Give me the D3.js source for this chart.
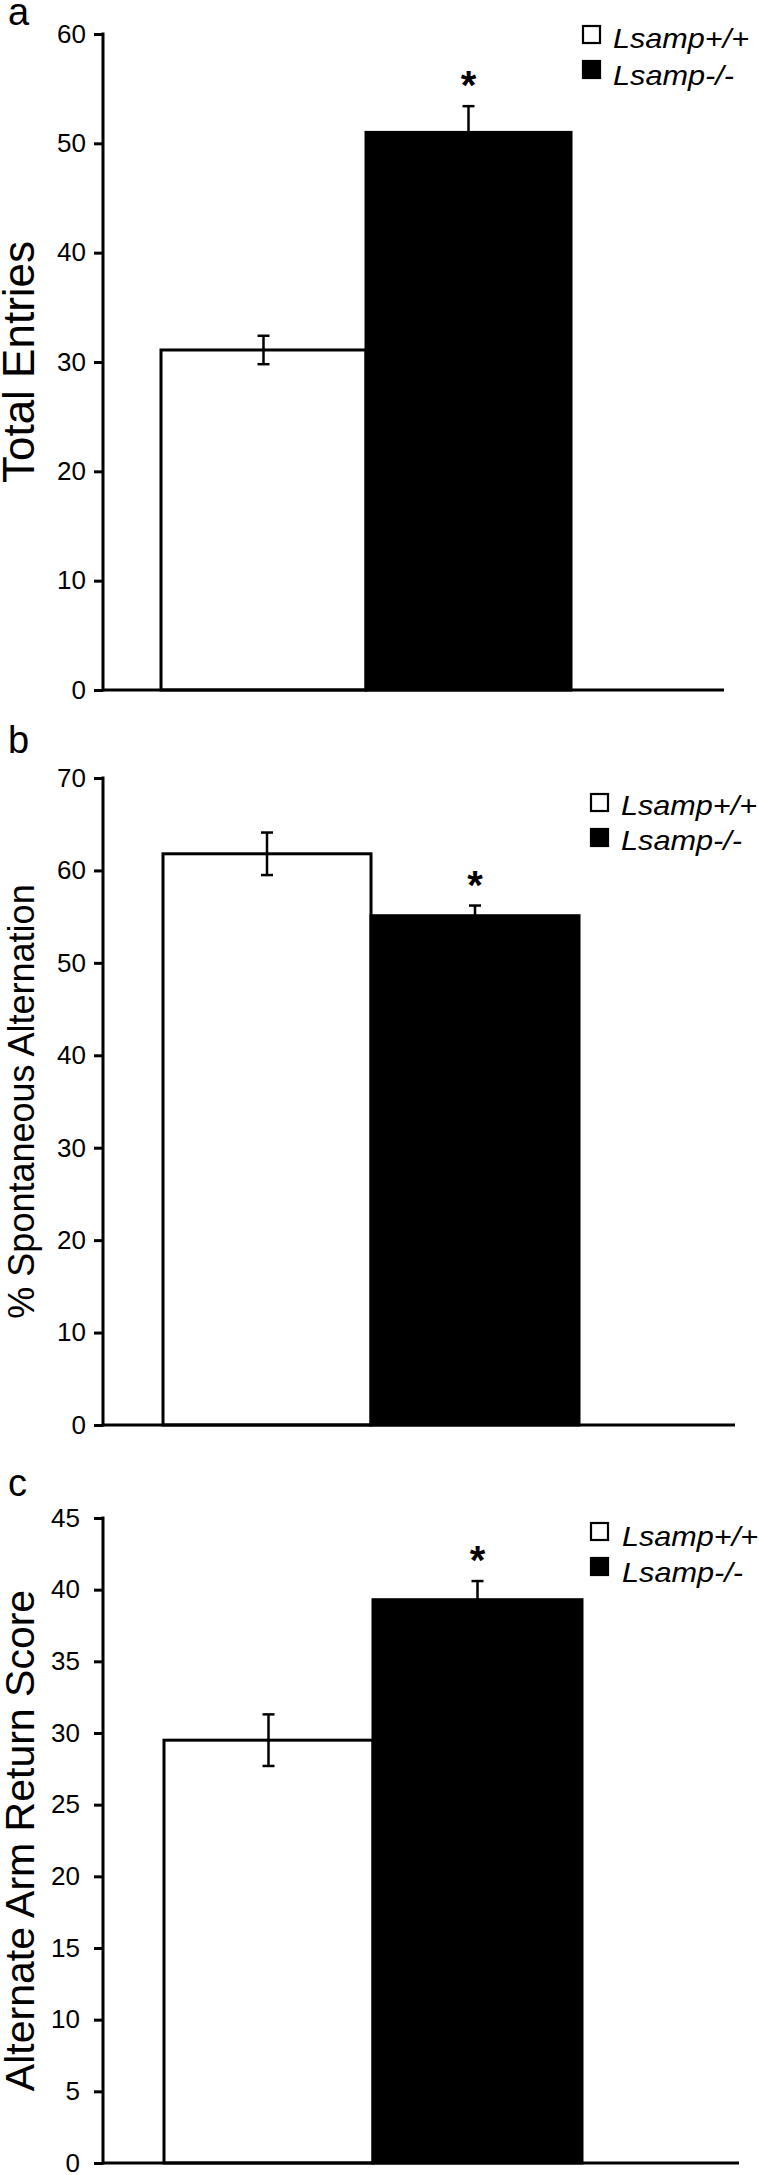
<!DOCTYPE html>
<html>
<head>
<meta charset="utf-8">
<script src="https://cdn.jsdelivr.net/npm/d3@7"></script>
<style>
  html, body { margin: 0; padding: 0; background: #fff; }
  svg { display: block; font-family: "Liberation Sans", Arial, sans-serif; }
</style>
</head>
<body>
<svg id="chart" width="759" height="2175"></svg>
<script>
// ---- Data ----
const genotypes = ["Lsamp+/+", "Lsamp-/-"];
const barFills = ["#ffffff", "#000000"];

const totalEntries = [31.1, 51.0];
const totalEntriesSEM = [1.3, 2.4];
const totalEntriesTicks = [0, 10, 20, 30, 40, 50, 60];

const spontAlt = [61.8, 55.1];
const spontAltSEM = [2.3, 1.1];
const spontAltTicks = [0, 10, 20, 30, 40, 50, 60, 70];

const armReturn = [29.5, 39.3];
const armReturnSEM = [1.8, 1.3];
const armReturnTicks = [0, 5, 10, 15, 20, 25, 30, 35, 40, 45];

const significant = [false, true];

const panelLabels = ["a", "b", "c"];
const yTitles = ["Total Entries", "% Spontaneous Alternation", "Alternate Arm Return Score"];

// ---- Layout ----
const panels = [
  { label: panelLabels[0], title: yTitles[0], values: totalEntries, sem: totalEntriesSEM, ticks: totalEntriesTicks,
    yMax: 60, yTop: 34, yBot: 690, xAxis: 103, xEnd: 724, barRange: [161, 571], labelRight: 86,
    labelY: 25, titleSize: 44, legX: 582, legY: 25, legTextX: 613, legBase: [48, 85] },
  { label: panelLabels[1], title: yTitles[1], values: spontAlt, sem: spontAltSEM, ticks: spontAltTicks,
    yMax: 70, yTop: 778, yBot: 1425, xAxis: 103, xEnd: 735, barRange: [163, 579], labelRight: 86,
    labelY: 753, titleSize: 36, legX: 590, legY: 793, legTextX: 621, legBase: [815, 850] },
  { label: panelLabels[2], title: yTitles[2], values: armReturn, sem: armReturnSEM, ticks: armReturnTicks,
    yMax: 45, yTop: 1518, yBot: 2163, xAxis: 103, xEnd: 739, barRange: [164, 582], labelRight: 80,
    labelY: 1496, titleSize: 41, legX: 590, legY: 1522, legTextX: 622, legBase: [1546, 1582] }
];

const svg = d3.select("#chart");

panels.forEach(p => {
  const g = svg.append("g");
  const y = d3.scaleLinear().domain([0, p.yMax]).range([p.yBot, p.yTop]);
  const x = d3.scaleBand().domain(genotypes).range(p.barRange).paddingInner(0).paddingOuter(0);

  // Panel letter
  g.append("text").attr("x", 8).attr("y", p.labelY)
    .attr("font-size", 38).attr("fill", "#000").text(p.label);

  // Y axis title
  g.append("text")
    .attr("transform", `translate(34,${(p.yTop + p.yBot) / 2}) rotate(-90)`)
    .attr("text-anchor", "middle")
    .attr("font-size", p.titleSize)
    .attr("fill", "#000")
    .text(p.title);

  // Bars
  g.selectAll("rect.bar").data(genotypes).enter().append("rect")
    .attr("class", "bar")
    .attr("x", d => x(d))
    .attr("width", x.bandwidth())
    .attr("y", (d, i) => y(p.values[i]))
    .attr("height", (d, i) => y(0) - y(p.values[i]))
    .attr("fill", (d, i) => barFills[i])
    .attr("stroke", "#000")
    .attr("stroke-width", 3);

  // Error bars
  genotypes.forEach((d, i) => {
    const cx = x(d) + x.bandwidth() / 2;
    const hi = y(p.values[i] + p.sem[i]);
    const lo = y(p.values[i] - p.sem[i]);
    const eg = g.append("g").attr("stroke", "#000").attr("stroke-width", 2.5);
    eg.append("line").attr("x1", cx).attr("x2", cx).attr("y1", hi).attr("y2", lo);
    eg.append("line").attr("x1", cx - 6).attr("x2", cx + 6).attr("y1", hi).attr("y2", hi);
    eg.append("line").attr("x1", cx - 6).attr("x2", cx + 6).attr("y1", lo).attr("y2", lo);
    if (significant[i]) {
      g.append("text").attr("x", cx).attr("y", hi - 7)
        .attr("text-anchor", "middle").attr("font-size", 40).attr("font-weight", "bold")
        .text("*");
    }
  });

  // Y axis
  const yAxis = d3.axisLeft(y).tickValues(p.ticks).tickSize(9).tickPadding(p.xAxis - 9 - p.labelRight);
  const ag = g.append("g").attr("transform", `translate(${p.xAxis},0)`).call(yAxis);
  ag.select(".domain").remove();
  ag.selectAll(".tick line").attr("stroke", "#000").attr("stroke-width", 3);
  ag.selectAll(".tick text").attr("font-size", 26).attr("fill", "#000")
    .attr("font-family", "'Liberation Sans', Arial, sans-serif");
  g.append("line").attr("x1", p.xAxis).attr("x2", p.xAxis)
    .attr("y1", y(p.yMax) - 1.5).attr("y2", y(0) + 1.5)
    .attr("stroke", "#000").attr("stroke-width", 3);

  // X axis line
  g.append("line").attr("x1", p.xAxis).attr("x2", p.xEnd)
    .attr("y1", y(0)).attr("y2", y(0))
    .attr("stroke", "#000").attr("stroke-width", 3);

  // Legend
  genotypes.forEach((d, i) => {
    const sy = p.legY + i * 35;
    g.append("rect").attr("x", p.legX + 1).attr("y", sy + 1).attr("width", 17).attr("height", 17)
      .attr("fill", barFills[i]).attr("stroke", "#000").attr("stroke-width", 2.2);
    g.append("text").attr("x", p.legTextX).attr("y", p.legBase[i])
      .attr("font-size", 28).attr("font-style", "italic")
      .attr("textLength", i === 0 ? 136 : 121).attr("lengthAdjust", "spacingAndGlyphs")
      .text(d);
  });
});
</script>
</body>
</html>
